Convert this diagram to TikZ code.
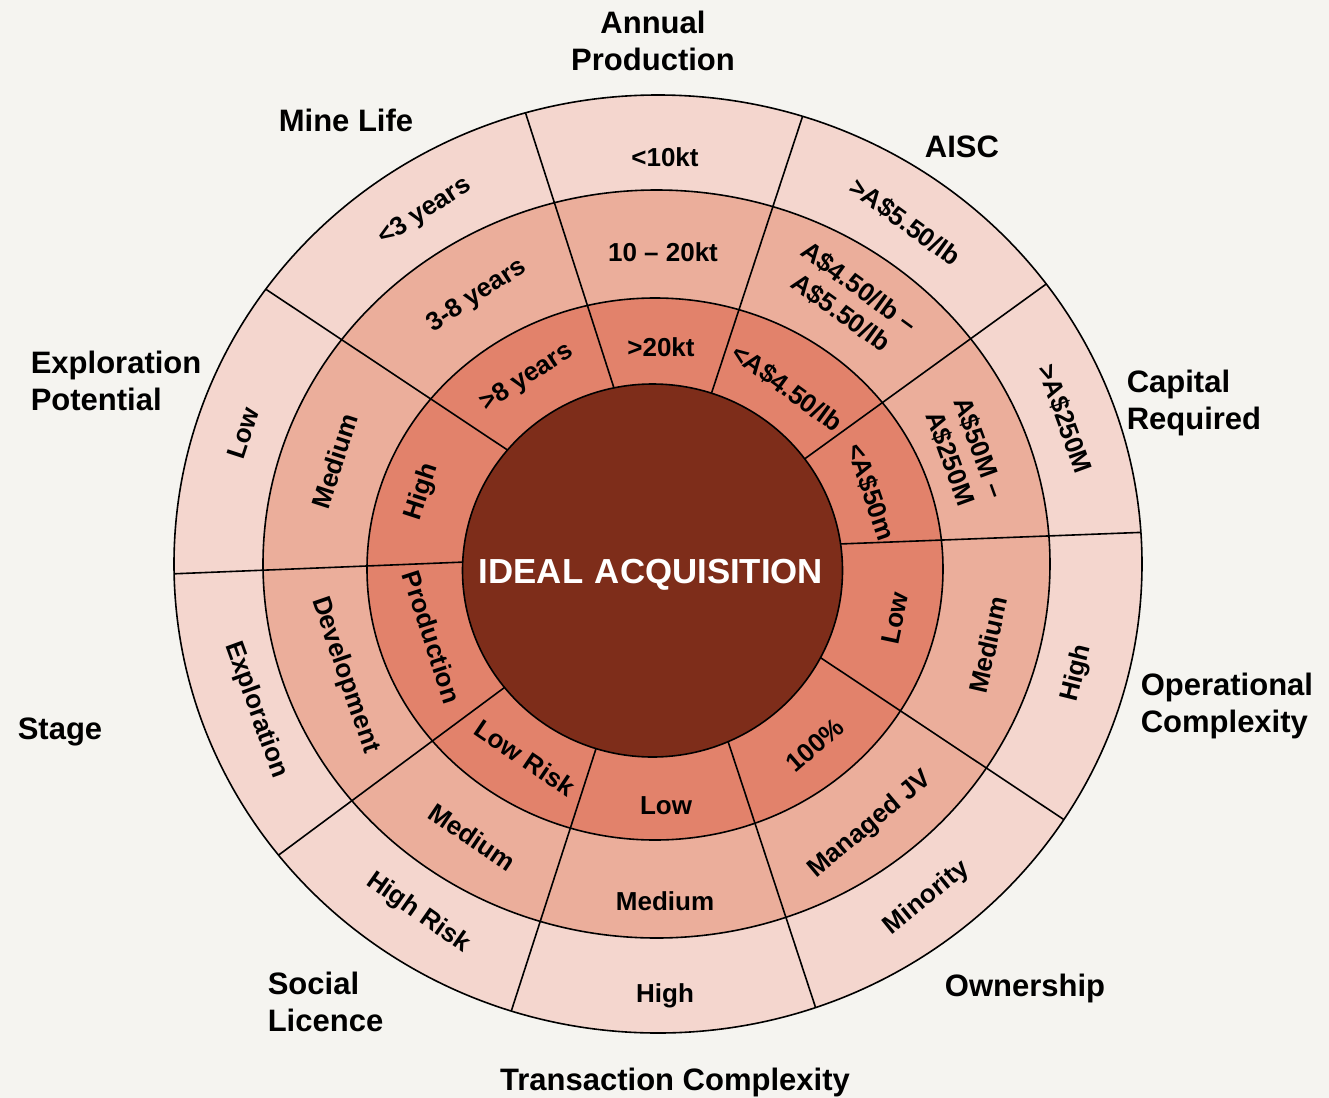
\documentclass[tikz,border=0pt]{standalone}
\usepackage{fontspec}
\setmainfont{Liberation Sans}

\definecolor{bg}{HTML}{F5F4F0}
\definecolor{outerring}{HTML}{F4D6CE}
\definecolor{midring}{HTML}{EBAE9B}
\definecolor{innerring}{HTML}{E2826B}
\definecolor{core}{HTML}{7E2D1A}

\begin{document}
\begin{tikzpicture}[x=0.5pt,y=-0.5pt,line width=0.8pt,
  lab/.style={font=\bfseries\fontsize{13}{15.5}\selectfont,align=center,inner sep=0pt},
  cat/.style={font=\bfseries\fontsize{15.5}{18.8}\selectfont,inner sep=0pt}]
\fill[bg] (0,0) rectangle (1329,1098);
\useasboundingbox (0,0) rectangle (1329,1098);

% rings
\draw[fill=outerring] (658,564) ellipse [x radius=484,y radius=469];
\draw[fill=midring] (656.5,564) ellipse [x radius=393.5,y radius=374];
\draw[fill=innerring] (655,569) ellipse [x radius=288,y radius=271];

% sector borders
\begin{scope}
\clip (658,564) ellipse [x radius=484,y radius=469];
\coordinate (o1) at (522,102);   \coordinate (i1) at (622,413);
\coordinate (o2) at (804,112);   \coordinate (i2) at (703,419);
\coordinate (o3) at (1049,282);  \coordinate (i3) at (781,476);
\coordinate (o4) at (1151,532);  \coordinate (i4) at (813,545);
\coordinate (o5) at (1075,827);  \coordinate (i5) at (803,646);
\coordinate (o6) at (820,1021);  \coordinate (i6) at (721,720);
\coordinate (o7) at (510,1015);  \coordinate (i7) at (603,727);
\coordinate (o8) at (276,857);   \coordinate (i8) at (524,673);
\coordinate (o9) at (169,574);   \coordinate (i9) at (490,561);
\coordinate (o10) at (255,282);  \coordinate (i10) at (527,463);
\draw (o1) -- (i1);
\draw (o2) -- (i2);
\draw (o3) -- (i3);
\draw (o4) -- (i4);
\draw (o5) -- (i5);
\draw (o6) -- (i6);
\draw (o7) -- (i7);
\draw (o8) -- (i8);
\draw (o9) -- (i9);
\draw (o10) -- (i10);
\end{scope}

% centre
\draw[fill=core] (652.5,570.5) ellipse [x radius=190,y radius=186.5];
\node[font=\bfseries\fontsize{17.4}{20}\selectfont,text=white] (ideal) at (651,575) {IDEAL\,\,ACQUISITION};

% outer ring
\node[lab] (AP3) at (665,157) {<10kt};
\node[lab,rotate=-36] (AI3) at (905,222) {>A\$5.50/lb};
\node[lab,rotate=-70] (CR3) at (1065,419) {>A\$250M};
\node[lab,rotate=76] (OC3) at (1077,673) {High};
\node[lab,rotate=39] (OW3) at (927,898) {Minority};
\node[lab] (TC3) at (665,996) {High};
\node[lab,rotate=-35] (SL3) at (418,913) {High Risk};
\node[lab,rotate=-70] (ST3) at (256,710) {Exploration};
\node[lab,rotate=72] (EP3) at (243,433) {Low};
\node[lab,rotate=33] (ML3) at (425,212) {<3 years};

% middle ring
\node[lab] (AP2) at (663,252) {10 – 20kt};
\node[lab,rotate=-36] (AI2) at (850,300) {A\$4.50/lb –\\A\$5.50/lb};
\node[lab,rotate=-70] (CR2) at (965,453) {A\$50M –\\A\$250M};
\node[lab,rotate=77] (OC2) at (988,645) {Medium};
\node[lab,rotate=40] (OW2) at (870,825) {Managed JV};
\node[lab] (TC2) at (665,901) {Medium};
\node[lab,rotate=-34] (SL2) at (472,837) {Medium};
\node[lab,rotate=-71] (ST2) at (345,675) {Development};
\node[lab,rotate=72] (EP2) at (335,461) {Medium};
\node[lab,rotate=33] (ML2) at (477,296) {3-8 years};

% inner ring
\node[lab] (AP1) at (661,347) {>20kt};
\node[lab,rotate=-36] (AI1) at (787,388) {<A\$4.50/lb};
\node[lab,rotate=-71] (CR1) at (871,492) {<A\$50m};
\node[lab,rotate=78] (OC1) at (895,618) {Low};
\node[lab,rotate=41] (OW1) at (815,745) {100\%};
\node[lab] (TC1) at (666,806) {Low};
\node[lab,rotate=-34] (SL1) at (525,758) {Low Risk};
\node[lab,rotate=-72] (ST1) at (432,637) {Production};
\node[lab,rotate=72] (EP1) at (422,492) {High};
\node[lab,rotate=33] (ML1) at (527,378) {>8 years};

% categories
\node[cat,align=center] (AP) at (653,41) {Annual\\Production};
\node[cat] (AI) at (962,147) {AISC};
\node[cat,align=left,anchor=west] (CR) at (1126,403) {Capital\\Required};
\node[cat,align=left,anchor=west] (OC) at (1140,706) {Operational\\Complexity};
\node[cat] (OW) at (1025,988) {Ownership};
\node[cat] (TC) at (675,1082) {Transaction Complexity};
\node[cat,align=left,anchor=west] (SL) at (267,1002) {Social\\Licence};
\node[cat] (ST) at (60,732) {Stage};
\node[cat,align=left,anchor=west] (EP) at (30,381) {Exploration\\Potential};
\node[cat] (ML) at (346,120) {Mine Life};
\end{tikzpicture}
\end{document}
